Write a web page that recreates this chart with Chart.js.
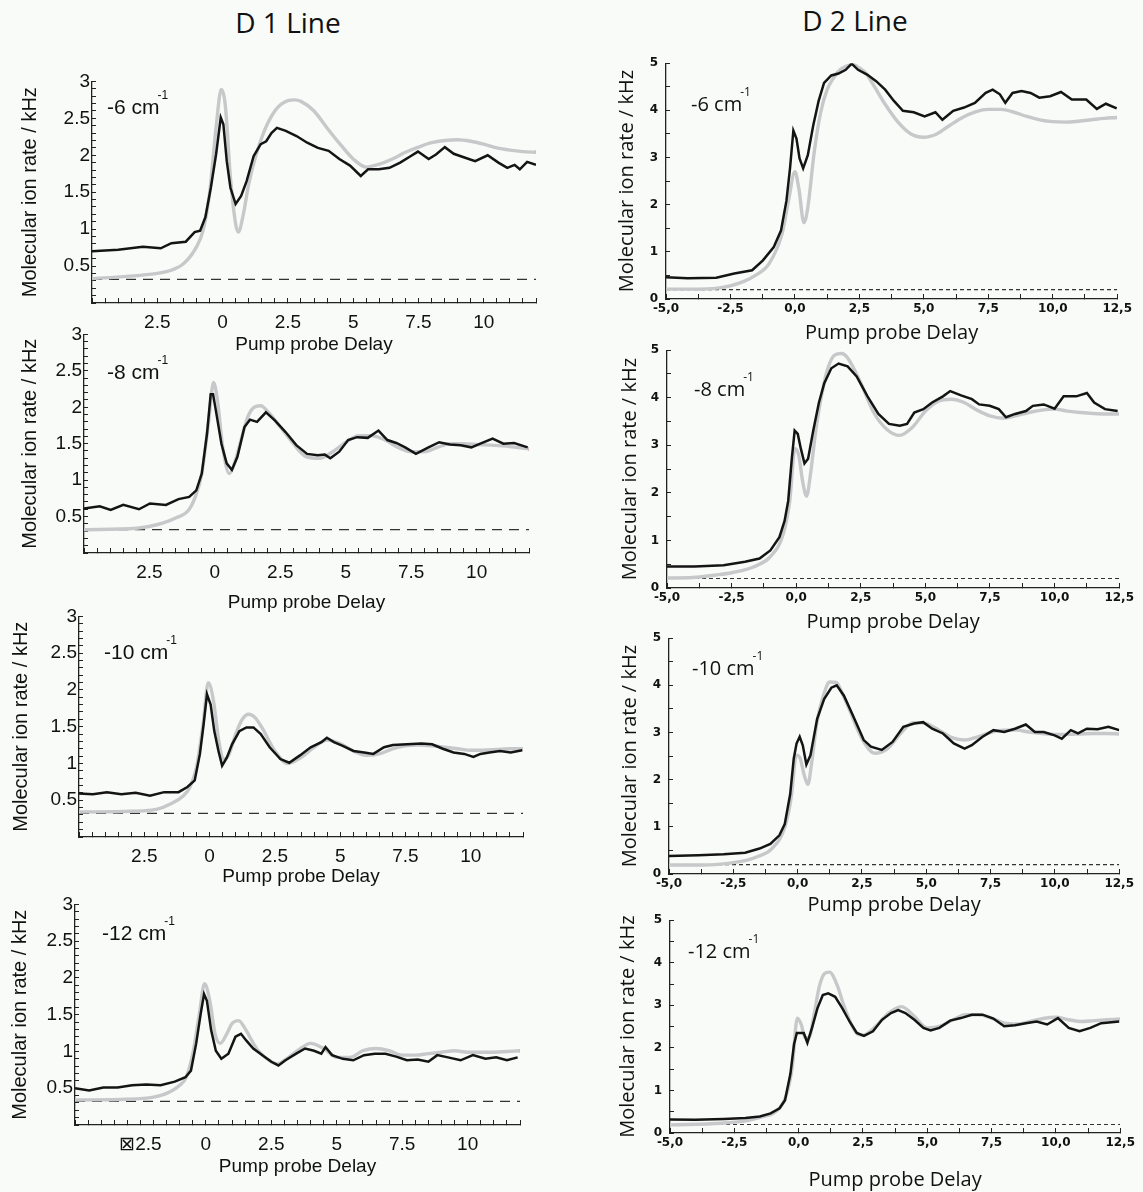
<!DOCTYPE html>
<html>
<head>
<meta charset="utf-8">
<script src="https://cdn.jsdelivr.net/npm/chart.js@4.4.1/dist/chart.umd.min.js"></script>
<style>
  html, body { margin: 0; padding: 0; background: #f9fbf8; }
  #page { position: relative; width: 1143px; height: 1192px; overflow: hidden; }
  #page canvas { position: absolute; }
  .head { position: absolute; font-family: "Open Sans", sans-serif; font-size: 28px; color: #111; transform: translate(-50%, -50%); white-space: nowrap; }
  .det { position: absolute; white-space: nowrap; color: #111; transform: translateY(-50%); }
  .det .sup { font-size: 12px; position: relative; top: -15px; margin-left: -2px; }
  .d1 { font-family: "Liberation Sans", Arial, sans-serif; font-size: 21px; }
  .d2 { font-family: "Open Sans", sans-serif; font-size: 20px; }
</style>
</head>
<body>
<div id="page">
  <div class="head" style="left:288px;top:22px">D 1 Line</div>
  <div class="head" style="left:855px;top:20px">D 2 Line</div>
</div>
<script>
// ---- D1 line, measured (black) and fit (grey), pump probe delay in x
const d1_6cm_delay = [-5,-4,-3.05,-2.37,-1.96,-1.41,-1.07,-0.86,-0.66,-0.45,-0.25,-0.07,0.03,0.16,0.3,0.5,0.71,0.92,1.19,1.46,1.67,1.87,2.08,2.42,2.83,3.24,3.65,4.06,4.47,4.88,5.29,5.57,5.98,6.39,6.8,7.21,7.48,7.89,8.17,8.51,8.85,9.26,9.67,10.15,10.56,10.9,11.18,11.38,11.66,12]
const d1_6cm_rate  = [0.70,0.72,0.76,0.74,0.81,0.83,0.96,0.98,1.16,1.56,2.01,2.51,2.42,1.92,1.56,1.34,1.45,1.65,1.99,2.15,2.19,2.30,2.37,2.33,2.26,2.17,2.10,2.06,1.95,1.86,1.72,1.81,1.81,1.83,1.90,1.99,2.05,1.95,2.01,2.11,2.02,1.97,1.92,2.00,1.90,1.83,1.87,1.81,1.91,1.87]
const d1_6cm_fitDelay = [-5,-3,-2,-1.5,-1,-0.75,-0.5,-0.25,-0.05,0.1,0.3,0.5,0.6,0.8,1,1.5,2,2.5,2.75,3,3.5,4,4.5,5,5.5,6,6.5,7,7.5,8,8.5,9,9.5,10,10.5,11,11.5,12]
const d1_6cm_fit      = [0.33,0.38,0.44,0.53,0.76,0.98,1.48,2.37,2.89,2.69,1.70,1.07,0.96,1.21,1.61,2.24,2.60,2.74,2.75,2.73,2.60,2.37,2.15,1.95,1.84,1.88,1.95,2.04,2.11,2.17,2.20,2.21,2.19,2.15,2.10,2.07,2.05,2.04]

const d1_8cm_delay = [-5,-4.4,-3.98,-3.5,-2.9,-2.48,-1.87,-1.39,-0.98,-0.71,-0.5,-0.3,-0.16,-0.07,0.04,0.25,0.45,0.65,0.86,1.13,1.34,1.61,1.95,2.29,2.7,3.11,3.52,3.93,4.2,4.41,4.75,5.09,5.43,5.84,6.25,6.59,6.93,7.27,7.68,8.16,8.57,8.98,9.39,9.8,10.14,10.61,11.02,11.43,11.95]
const d1_8cm_rate  = [0.61,0.64,0.59,0.66,0.60,0.68,0.66,0.74,0.77,0.86,1.09,1.64,2.18,2.18,1.95,1.50,1.23,1.14,1.32,1.73,1.83,1.80,1.93,1.82,1.66,1.48,1.36,1.34,1.35,1.30,1.39,1.55,1.59,1.58,1.68,1.55,1.51,1.45,1.36,1.45,1.52,1.49,1.48,1.45,1.50,1.57,1.50,1.51,1.45]
const d1_8cm_fitDelay = [-5,-3,-2,-1.5,-1,-0.75,-0.5,-0.25,-0.05,0.1,0.3,0.55,0.75,1,1.25,1.5,1.75,2,2.5,3,3.5,4,4.5,5,5.5,6,6.5,7,7.5,8,8.5,9,9.5,10,10.5,11,11.5,12]
const d1_8cm_fit      = [0.32,0.34,0.41,0.48,0.59,0.77,1.09,1.77,2.34,2.09,1.45,1.09,1.23,1.55,1.86,2.00,2.02,1.95,1.73,1.50,1.32,1.30,1.39,1.52,1.61,1.61,1.55,1.45,1.39,1.39,1.45,1.50,1.50,1.49,1.48,1.47,1.45,1.43]

const d1_10cm_delay = [-5,-4.47,-3.93,-3.38,-2.83,-2.28,-1.74,-1.19,-0.85,-0.57,-0.37,-0.23,-0.1,0.04,0.18,0.34,0.48,0.66,0.86,1.14,1.41,1.68,1.96,2.3,2.71,3.05,3.46,3.87,4.28,4.49,4.76,5.1,5.51,5.92,6.27,6.68,7.02,7.56,8.11,8.52,8.93,9.34,9.75,10.1,10.37,10.71,11.12,11.53,11.97]
const d1_10cm_rate  = [0.59,0.58,0.61,0.58,0.60,0.56,0.61,0.61,0.68,0.77,1.13,1.53,1.94,1.80,1.44,1.17,0.97,1.08,1.26,1.44,1.49,1.49,1.40,1.22,1.06,1.01,1.11,1.22,1.29,1.35,1.29,1.24,1.17,1.15,1.13,1.22,1.25,1.26,1.27,1.26,1.20,1.15,1.13,1.09,1.13,1.15,1.17,1.15,1.18]
const d1_10cm_fitDelay = [-5,-3,-2,-1.5,-1,-0.75,-0.5,-0.25,-0.05,0.15,0.35,0.55,0.75,1,1.25,1.5,1.75,2,2.5,3,3.5,4,4.5,5,5.5,6,6.5,7,7.5,8,8.5,9,9.5,10,10.5,11,11.5,12]
const d1_10cm_fit      = [0.34,0.35,0.38,0.45,0.56,0.68,0.95,1.53,2.10,1.85,1.31,1.06,1.13,1.40,1.60,1.67,1.62,1.49,1.17,1.00,1.08,1.22,1.32,1.27,1.17,1.11,1.13,1.20,1.24,1.25,1.24,1.22,1.20,1.18,1.18,1.19,1.20,1.20]

const d1_12cm_delay = [-5,-4.46,-3.92,-3.37,-2.82,-2.28,-1.73,-1.19,-0.78,-0.57,-0.37,-0.2,-0.07,0.04,0.2,0.38,0.59,0.86,1.13,1.34,1.54,1.81,2.16,2.5,2.77,3.04,3.45,3.79,4.13,4.41,4.57,4.82,5.23,5.63,6.04,6.45,6.86,7.27,7.68,8.09,8.5,8.84,9.25,9.73,10.2,10.68,11.09,11.5,11.91]
const d1_12cm_rate  = [0.50,0.47,0.51,0.51,0.54,0.55,0.54,0.59,0.65,0.74,1.11,1.51,1.78,1.69,1.29,1.01,0.90,0.97,1.20,1.24,1.15,1.04,0.95,0.86,0.81,0.88,0.97,1.04,1.01,0.97,1.06,0.95,0.90,0.88,0.95,0.97,0.97,0.93,0.88,0.89,0.86,0.95,0.92,0.88,0.95,0.90,0.92,0.88,0.92]
const d1_12cm_fitDelay = [-5,-3,-2,-1.5,-1,-0.75,-0.5,-0.25,-0.05,0.15,0.35,0.55,0.8,1,1.25,1.5,1.75,2,2.5,2.75,3,3.5,4,4.5,5,5.5,6,6.5,7,7.5,8,8.5,9,9.5,10,10.5,11,11.5,12]
const d1_12cm_fit      = [0.34,0.35,0.38,0.43,0.54,0.65,0.97,1.51,1.92,1.69,1.24,1.11,1.24,1.38,1.42,1.31,1.15,1.01,0.86,0.83,0.88,1.01,1.11,1.04,0.92,0.92,1.01,1.04,1.01,0.95,0.95,0.97,0.99,1.01,0.99,0.99,0.99,1.00,1.01]

// ---- D2 line
const d2_6cm_delay = [-5,-4.16,-3.05,-2.35,-1.66,-1.24,-0.82,-0.54,-0.33,-0.19,-0.06,0.06,0.18,0.32,0.5,0.71,0.92,1.13,1.41,1.69,1.97,2.2,2.45,2.8,3.15,3.5,3.84,4.19,4.61,5.03,5.45,5.72,6.14,6.56,6.98,7.4,7.67,7.95,8.16,8.44,8.79,9.14,9.48,9.9,10.32,10.74,11.3,11.71,12.06,12.48]
const d2_6cm_rate  = [0.46,0.44,0.45,0.54,0.61,0.82,1.10,1.45,2.08,2.77,3.57,3.40,2.98,2.77,3.05,3.68,4.20,4.58,4.74,4.78,4.86,4.99,4.86,4.76,4.62,4.44,4.20,3.99,3.96,3.87,3.96,3.80,3.99,4.06,4.16,4.37,4.44,4.34,4.16,4.37,4.41,4.37,4.27,4.30,4.39,4.23,4.23,4.03,4.14,4.04]
const d2_6cm_fitDelay = [-5,-4,-3,-2,-1.5,-1,-0.5,-0.25,0,0.15,0.35,0.5,0.75,1,1.25,1.5,1.75,2,2.25,2.5,2.75,3,3.5,4,4.5,5,5.5,6,6.5,7,7.5,8,8.5,9,9.5,10,10.5,11,11.5,12,12.5]
const d2_6cm_fit      = [0.21,0.21,0.23,0.37,0.51,0.75,1.38,2.08,2.70,2.35,1.62,1.94,3.12,3.96,4.44,4.69,4.86,4.94,4.97,4.90,4.79,4.58,4.13,3.75,3.50,3.43,3.50,3.68,3.85,3.97,4.02,4.02,3.96,3.87,3.80,3.76,3.75,3.77,3.80,3.83,3.85]

const d2_8cm_delay = [-5,-3.93,-2.81,-1.98,-1.42,-1,-0.65,-0.45,-0.31,-0.17,-0.06,0.06,0.18,0.32,0.46,0.67,0.88,1.09,1.36,1.64,1.99,2.34,2.76,3.18,3.59,4.01,4.29,4.57,4.92,5.26,5.68,5.96,6.38,6.8,7.08,7.49,7.84,8.12,8.47,8.89,9.16,9.58,10,10.35,10.84,11.25,11.53,11.95,12.44]
const d2_8cm_rate  = [0.45,0.45,0.48,0.55,0.62,0.79,1.07,1.41,1.83,2.72,3.31,3.24,2.93,2.62,2.72,3.34,3.90,4.31,4.62,4.72,4.66,4.45,4.03,3.66,3.45,3.41,3.45,3.69,3.76,3.90,4.03,4.14,4.05,3.97,3.86,3.83,3.76,3.59,3.66,3.72,3.83,3.86,3.77,4.03,4.03,4.10,3.90,3.76,3.72]
const d2_8cm_fitDelay = [-5,-4,-3,-2.5,-2,-1.5,-1,-0.5,-0.25,-0.05,0.1,0.25,0.4,0.55,0.75,1,1.25,1.5,1.75,2,2.5,3,3.5,4,4.5,5,5.5,6,6.5,7,7.5,8,8.5,9,9.5,10,10.5,11,11.5,12,12.5]
const d2_8cm_fit      = [0.21,0.22,0.28,0.32,0.38,0.48,0.66,1.14,1.83,2.93,2.79,2.24,1.93,2.38,3.28,4.10,4.66,4.90,4.93,4.83,4.31,3.69,3.34,3.21,3.38,3.72,3.93,3.97,3.90,3.74,3.62,3.57,3.62,3.69,3.74,3.76,3.72,3.69,3.67,3.66,3.66]

const d2_10cm_delay = [-5,-3.85,-2.88,-2.04,-1.48,-1.06,-0.71,-0.5,-0.29,-0.15,-0.04,0.08,0.2,0.34,0.5,0.76,1.03,1.31,1.52,1.8,2.15,2.57,2.85,3.27,3.69,4.11,4.53,4.88,5.23,5.65,6.07,6.49,6.77,7.19,7.61,8.03,8.45,8.87,9.22,9.57,9.99,10.27,10.62,10.9,11.24,11.66,12.08,12.5]
const d2_10cm_rate  = [0.38,0.40,0.42,0.45,0.54,0.64,0.82,1.06,1.69,2.45,2.77,2.91,2.73,2.32,2.52,3.29,3.71,3.95,4.00,3.78,3.36,2.84,2.70,2.63,2.80,3.12,3.19,3.22,3.08,2.98,2.77,2.66,2.73,2.91,3.05,3.01,3.08,3.17,3.01,3.01,2.94,2.87,3.05,2.98,3.08,3.07,3.12,3.05]
const d2_10cm_fitDelay = [-5,-4,-3,-2,-1.5,-1,-0.5,-0.25,-0.05,0.1,0.25,0.4,0.55,0.75,1,1.25,1.5,1.75,2,2.5,3,3.5,4,4.5,5,5.5,6,6.5,7,7.5,8,8.5,9,9.5,10,10.5,11,11.5,12,12.5]
const d2_10cm_fit      = [0.19,0.19,0.21,0.29,0.38,0.54,0.99,1.62,2.52,2.45,2.11,1.90,2.38,3.22,3.78,4.07,4.06,3.81,3.50,2.87,2.56,2.66,2.98,3.21,3.19,3.05,2.89,2.84,2.91,3.00,3.05,3.05,3.01,2.98,2.96,2.96,2.97,2.98,2.98,2.97]

const d2_12cm_delay = [-5,-4.02,-2.9,-2.07,-1.51,-1.09,-0.74,-0.53,-0.32,-0.18,-0.07,0.06,0.2,0.34,0.52,0.73,0.94,1.15,1.42,1.7,1.98,2.26,2.54,2.89,3.24,3.59,3.87,4.15,4.5,4.85,5.13,5.47,5.89,6.31,6.73,7.15,7.57,7.99,8.41,8.83,9.25,9.66,10.08,10.5,10.92,11.34,11.76,12.46]
const d2_12cm_rate  = [0.32,0.31,0.33,0.35,0.39,0.46,0.58,0.77,1.39,2.08,2.35,2.35,2.35,2.12,2.47,2.93,3.24,3.28,3.20,2.93,2.62,2.35,2.28,2.39,2.66,2.82,2.89,2.82,2.66,2.47,2.41,2.47,2.64,2.70,2.78,2.78,2.69,2.51,2.53,2.58,2.62,2.55,2.70,2.47,2.39,2.47,2.58,2.62]
const d2_12cm_fitDelay = [-5,-3,-2,-1.5,-1,-0.75,-0.5,-0.25,-0.05,0.1,0.25,0.4,0.6,0.8,1,1.2,1.5,1.75,2,2.25,2.5,3,3.5,4,4.5,5,5.5,6,6.5,7,7.5,8,8.5,9,9.5,10,10.5,11,11.5,12,12.5]
const d2_12cm_fit      = [0.19,0.23,0.29,0.37,0.46,0.58,0.85,1.54,2.70,2.55,2.24,2.24,2.78,3.43,3.74,3.78,3.47,3.01,2.62,2.35,2.30,2.51,2.82,2.97,2.74,2.47,2.51,2.66,2.78,2.78,2.70,2.58,2.56,2.62,2.69,2.72,2.66,2.62,2.64,2.66,2.68]

// background level (dashed) and tick labels
const baselineD1 = 0.32
const baselineD2 = 0.2
const d1TickValues = [-2.5, 0, 2.5, 5, 7.5, 10]
const d1TickLabels = ['2.5', '0', '2.5', '5', '7.5', '10']
const d1TickLabelsLast = ['\u22A02.5', '0', '2.5', '5', '7.5', '10']
const d1RateTicks = [0.5, 1, 1.5, 2, 2.5, 3]
const d2TickValues = [-5, -2.5, 0, 2.5, 5, 7.5, 10, 12.5]
const d2TickLabels = ['-5,0', '-2,5', '0,0', '2,5', '5,0', '7,5', '10,0', '12,5']

const page = document.getElementById('page')

// box = [plot left, plot right, plot top, plot bottom] in page pixels
const panels = [
  { col: 1, det: '-6',  x: d1_6cm_delay,  y: d1_6cm_rate,  fx: d1_6cm_fitDelay,  fy: d1_6cm_fit,  box: [92, 536, 80, 303],   yTitleX: 30, xTitleY: 345, labelPos: [107, 107], ticks: d1TickLabels },
  { col: 1, det: '-8',  x: d1_8cm_delay,  y: d1_8cm_rate,  fx: d1_8cm_fitDelay,  fy: d1_8cm_fit,  box: [84, 529, 333, 553],  yTitleX: 30, xTitleY: 603, labelPos: [107, 372], ticks: d1TickLabels },
  { col: 1, det: '-10', x: d1_10cm_delay, y: d1_10cm_rate, fx: d1_10cm_fitDelay, fy: d1_10cm_fit, box: [79, 523, 615, 837],  yTitleX: 21, xTitleY: 877, labelPos: [104, 652], ticks: d1TickLabels },
  { col: 1, det: '-12', x: d1_12cm_delay, y: d1_12cm_rate, fx: d1_12cm_fitDelay, fy: d1_12cm_fit, box: [75, 520, 903, 1125], yTitleX: 20, xTitleY: 1167, labelPos: [102, 933], ticks: d1TickLabelsLast },
  { col: 2, det: '-6',  x: d2_6cm_delay,  y: d2_6cm_rate,  fx: d2_6cm_fitDelay,  fy: d2_6cm_fit,  box: [666, 1118, 60, 299],  yTitleX: 627, xTitleY: 333, labelPos: [691, 103] },
  { col: 2, det: '-8',  x: d2_8cm_delay,  y: d2_8cm_rate,  fx: d2_8cm_fitDelay,  fy: d2_8cm_fit,  box: [667, 1120, 347, 588], yTitleX: 630, xTitleY: 622, labelPos: [694, 388] },
  { col: 2, det: '-10', x: d2_10cm_delay, y: d2_10cm_rate, fx: d2_10cm_fitDelay, fy: d2_10cm_fit, box: [669, 1120, 635, 874], yTitleX: 630, xTitleY: 905, labelPos: [692, 667] },
  { col: 2, det: '-12', x: d2_12cm_delay, y: d2_12cm_rate, fx: d2_12cm_fitDelay, fy: d2_12cm_fit, box: [670, 1121, 917, 1133], yTitleX: 628, xTitleY: 1180, labelPos: [688, 950] }
]

const near = (a, b) => Math.abs(a - b) < 1e-6

function drawPanel(p) {
  const d1 = p.col === 1
  const sans = d1 ? '"Liberation Sans", Arial, sans-serif' : '"Open Sans", sans-serif'
  const tickFont = d1 ? { family: sans, size: 19 } : { family: '"DejaVu Sans", sans-serif', size: 12, weight: 'bold' }
  const yTitleSize = 20, xTitleSize = d1 ? 19 : 20
  const padTop = 16, padRight = d1 ? 14 : 22
  const [cl, cr, ct, cb] = p.box
  const left = Math.round(p.yTitleX - yTitleSize * 0.6)
  const top = ct - padTop
  const bottom = Math.round(p.xTitleY + xTitleSize * 0.6)
  const w = cr + padRight - left, h = bottom - top

  const cv = document.createElement('canvas')
  cv.width = w; cv.height = h
  cv.style.left = left + 'px'; cv.style.top = top + 'px'
  cv.style.width = w + 'px'; cv.style.height = h + 'px'
  page.appendChild(cv)

  const xmin = -5, xmax = d1 ? 12 : 12.5
  const base = d1 ? baselineD1 : baselineD2
  const datasets = [
    { data: p.x.map((v, i) => ({ x: v, y: p.y[i] })), borderColor: '#141414', borderWidth: 2.5, pointRadius: 0, showLine: true, tension: 0 },
    { data: p.fx.map((v, i) => ({ x: v, y: p.fy[i] })), borderColor: '#c6c8ca', borderWidth: 3.4, pointRadius: 0, showLine: true, cubicInterpolationMode: 'monotone' },
    { data: [{ x: xmin, y: base }, { x: xmax, y: base }], borderColor: '#333', borderWidth: 1.2, borderDash: d1 ? [10, 7] : [4, 3], pointRadius: 0, showLine: true }
  ]
  if (d1) {
    datasets.push({ data: [{ x: p.fx[p.fx.length - 1], y: p.fy[p.fy.length - 1] }], pointRadius: 1.8, pointBackgroundColor: '#e23a3a', pointBorderWidth: 0, showLine: false })
  }

  new Chart(cv, {
    type: 'scatter',
    data: { datasets },
    options: {
      responsive: false,
      animation: false,
      events: [],
      layout: { padding: { top: padTop, right: padRight, left: 0, bottom: 0 } },
      plugins: { legend: { display: false }, tooltip: { enabled: false } },
      scales: {
        x: {
          type: 'linear', min: xmin, max: xmax,
          afterFit: s => { s.height = bottom - cb },
          border: { display: true, color: '#222', width: 1.3 },
          grid: { drawOnChartArea: false, drawTicks: true, tickLength: -5, color: '#222', lineWidth: 1 },
          ticks: {
            stepSize: d1 ? 0.5 : 1.25, autoSkip: false, maxRotation: 0, minRotation: 0,
            padding: d1 ? 13 : 8, font: tickFont, color: '#111',
            callback: v => {
              const vals = d1 ? d1TickValues : d2TickValues
              const labs = d1 ? p.ticks : d2TickLabels
              const i = vals.findIndex(t => near(t, v))
              return i < 0 ? '' : labs[i]
            }
          },
          title: { display: true, text: 'Pump probe Delay', color: '#111', padding: 0, font: { family: sans, size: xTitleSize } }
        },
        y: {
          type: 'linear', min: 0, max: d1 ? 3 : 5,
          afterFit: s => { s.width = cl - left },
          border: { display: true, color: '#222', width: 1.3 },
          grid: { drawOnChartArea: false, drawTicks: true, tickLength: d1 ? -4 : -4, color: '#222', lineWidth: 1 },
          ticks: {
            stepSize: d1 ? 0.1 : 0.5, autoSkip: false, padding: d1 ? 6 : 12, font: tickFont, color: '#111',
            callback: v => {
              if (d1) return d1RateTicks.some(t => near(t, v)) ? String(Math.round(v * 2) / 2) : ''
              return near(v, Math.round(v)) ? String(Math.round(v)) : ''
            }
          },
          title: { display: true, text: 'Molecular ion rate / kHz', color: '#111', padding: 0, font: { family: sans, size: yTitleSize } }
        }
      }
    }
  })

  const lab = document.createElement('div')
  lab.className = 'det ' + (d1 ? 'd1' : 'd2')
  lab.style.left = p.labelPos[0] + 'px'
  lab.style.top = p.labelPos[1] + 'px'
  lab.innerHTML = p.det + ' cm<span class="sup">-1</span>'
  page.appendChild(lab)
}

panels.forEach(drawPanel)
</script>
</body>
</html>
